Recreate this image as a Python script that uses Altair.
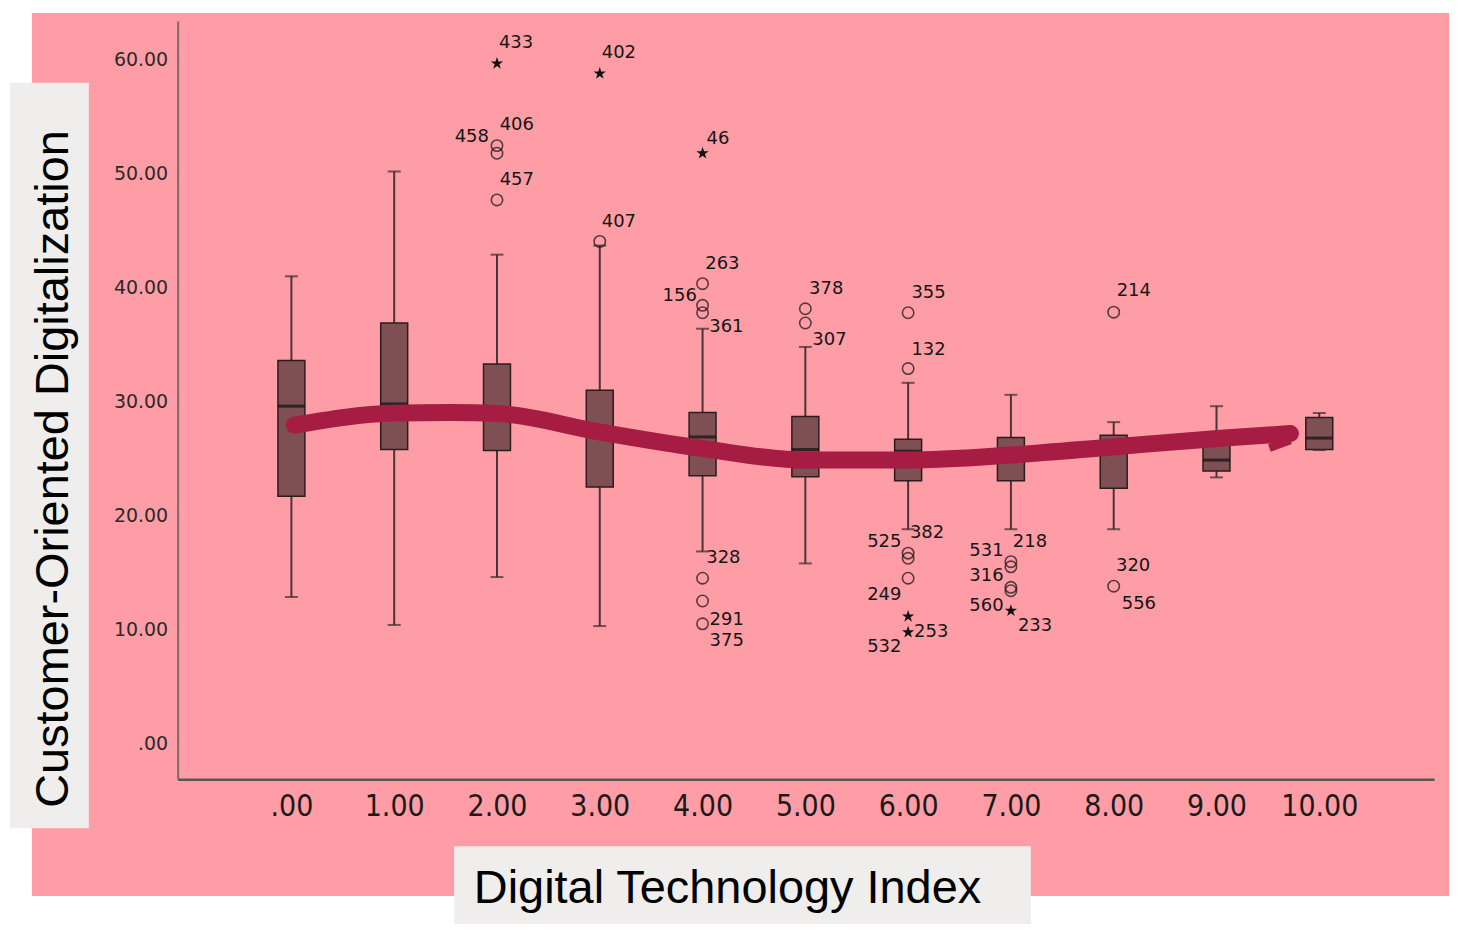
import altair as alt
import pandas as pd

# ---- data ----
categories = [0, 1, 2, 3, 4, 5, 6, 7, 8, 9, 10]
whisker_low = [12.85, 10.4, 14.6, 10.3, 16.85, 15.8, 18.8, 18.8, 18.8, 23.35, 25.75]
q1 = [21.7, 25.8, 25.7, 22.5, 23.5, 23.4, 23.05, 23.05, 22.4, 23.9, 25.8]
median = [29.6, 29.8, 28.8, 27.3, 26.9, 25.8, 25.65, 25.3, 26.2, 24.87, 26.8]
q3 = [33.6, 36.9, 33.3, 31.0, 29.05, 28.7, 26.7, 26.85, 27.05, 26.8, 28.6]
whisker_high = [41.0, 50.2, 42.9, 43.7, 36.4, 34.8, 31.65, 30.6, 28.2, 29.6, 29.0]

circle_x = [2, 2, 2, 3, 4, 4, 4, 4, 4, 4, 5, 5, 6, 6, 6, 6, 6, 7, 7, 7, 7, 8, 8]
circle_y = [52.47, 51.8, 47.7, 44.06, 40.35, 38.45, 37.8, 14.5, 12.5, 10.5, 38.15, 36.9,
            37.8, 32.9, 16.7, 16.25, 14.5, 15.95, 15.5, 13.7, 13.4, 37.85, 13.8]
star_x = [2, 3, 4, 6, 6, 7]
star_y = [59.67, 58.8, 51.8, 11.15, 9.75, 11.65]

# case labels: text, anchor x (category units), anchor y (value units), side
label_text = ["433", "402", "406", "458", "457", "407", "46", "263", "156", "361",
              "378", "307", "355", "132", "214", "328", "291", "375",
              "525", "382", "249", "253", "532", "531", "218", "316", "560", "233",
              "320", "556"]
label_x = [2.019, 3.019, 2.026, 1.922, 2.026, 3.019, 4.039, 4.026, 3.945, 4.065,
           5.036, 5.068, 6.032, 6.032, 8.029, 4.036, 4.068, 4.068,
           5.935, 6.017, 5.935, 6.058, 5.935, 6.929, 7.019, 6.929, 6.929, 7.068,
           8.022, 8.078]
label_y = [61.46, 60.64, 54.31, 53.19, 49.49, 45.75, 53.08, 42.04, 39.24, 36.55,
           39.85, 35.39, 39.53, 34.57, 39.70, 16.27, 10.86, 8.96,
           17.72, 18.51, 12.99, 9.78, 8.43, 16.90, 17.67, 14.71, 12.09, 10.27,
           15.53, 12.26]
label_side = ["left", "left", "left", "right", "left", "left", "left", "left", "right", "left",
              "left", "left", "left", "left", "left", "left", "left", "left",
              "right", "left", "right", "left", "right", "right", "left", "right", "right", "left",
              "left", "left"]

trend_x = [0.03, 1.0, 1.56, 2.0, 2.99, 3.99, 5.0, 6.0, 7.0, 8.01, 9.01, 9.72]
trend_y = [27.94, 28.99, 29.05, 28.97, 27.35, 25.9, 24.87, 24.87, 25.31, 26.04, 26.77, 27.2]
barb_x = [9.72, 9.515]
barb_y = [26.6, 25.93]

x_title = "Digital Technology Index"
y_title = "Customer-Oriented Digitalization"

# ---- styling ----
PINK = "#FE9DA6"
BOX = "#7E4F53"
CURVE = "#A61C42"
GRAYBOX = "#EFEEEC"

boxes = pd.DataFrame({"cat": categories, "lo": whisker_low, "q1": q1, "med": median,
                      "q3": q3, "hi": whisker_high})
circles = pd.DataFrame({"cat": circle_x, "v": circle_y})
stars = pd.DataFrame({"cat": star_x, "v": star_y})
labels = pd.DataFrame({"t": label_text, "cat": label_x, "v": label_y, "side": label_side})
trend = pd.DataFrame({"cat": trend_x, "v": trend_y, "o": list(range(len(trend_x)))})
barb = pd.DataFrame({"cat": barb_x, "v": barb_y, "o": [0, 1]})

xs = alt.Scale(domain=[-1.1068, 11.1165], nice=False, zero=False, padding=0)
ys = alt.Scale(domain=[-3.153, 63.414], nice=False, zero=False, padding=0)

fmt = "datum.value == 0 ? '.00' : format(datum.value, '.2f')"
xaxis = alt.Axis(values=categories, labelExpr=fmt, title=None, grid=False, ticks=False,
                 tickSize=0, labelPadding=12, labelFont="DejaVu Sans Condensed",
                 labelFontSize=30, labelColor="#1a1a1a", domainColor="#5f5254",
                 domainWidth=2.5, labelFlush=False, zindex=1)
yaxis = alt.Axis(values=[0, 10, 20, 30, 40, 50, 60], labelExpr=fmt, title=None, grid=False,
                 ticks=False, tickSize=0, labelPadding=10, labelFont="DejaVu Sans",
                 labelFontSize=19, labelColor="#2a2a2a", domainColor="#7a6a6c",
                 domainWidth=2, labelFlush=False, zindex=1)

one = alt.Data(values=[{"a": 1}])

# white page margins around the pink panel (pixel positions relative to the plot area)
wl = alt.Chart(one).mark_rect(color="#FFFFFF").encode(
    x=alt.value(-171), x2=alt.value(-146), y=alt.value(-13), y2=alt.value(905))
wt = alt.Chart(one).mark_rect(color="#FFFFFF").encode(
    x=alt.value(-171), x2=alt.value(1300), y=alt.value(-13), y2=alt.value(-8))
wr = alt.Chart(one).mark_rect(color="#FFFFFF").encode(
    x=alt.value(1274), x2=alt.value(1300), y=alt.value(-13), y2=alt.value(905))
wb = alt.Chart(one).mark_rect(color="#FFFFFF").encode(
    x=alt.value(-171), x2=alt.value(1300), y=alt.value(877), y2=alt.value(905))
ybox = alt.Chart(one).mark_rect(color=GRAYBOX).encode(
    x=alt.value(-168), x2=alt.value(-89), y=alt.value(62), y2=alt.value(809))
xbox = alt.Chart(one).mark_rect(color=GRAYBOX).encode(
    x=alt.value(277), x2=alt.value(855), y=alt.value(827), y2=alt.value(905))

X = alt.X("cat:Q", scale=xs, axis=xaxis)

whisk = alt.Chart(boxes).mark_rule(color="#4a3536", strokeWidth=2).encode(
    x=X, y=alt.Y("lo:Q", scale=ys, axis=yaxis), y2="hi:Q")
box = alt.Chart(boxes).mark_bar(size=27, color=BOX, stroke="#2b1d1e", strokeWidth=1.5).encode(
    x=X, y=alt.Y("q1:Q", scale=ys, axis=yaxis), y2="q3:Q")
med = alt.Chart(boxes).mark_tick(orient="horizontal", size=27, thickness=3, color="#111111").encode(
    x=X, y=alt.Y("med:Q", scale=ys, axis=yaxis))
caplo = alt.Chart(boxes).mark_tick(orient="horizontal", size=13, thickness=2, color="#3b2a2b").encode(
    x=X, y=alt.Y("lo:Q", scale=ys, axis=yaxis))
caphi = alt.Chart(boxes).mark_tick(orient="horizontal", size=13, thickness=2, color="#3b2a2b").encode(
    x=X, y=alt.Y("hi:Q", scale=ys, axis=yaxis))

circ = alt.Chart(circles).mark_point(shape="circle", filled=False, size=130, color="#111111",
                                     strokeWidth=1.6).encode(
    x=X, y=alt.Y("v:Q", scale=ys, axis=yaxis))
STAR = ("M0,-1L0.2245,-0.309L0.951,-0.309L0.363,0.118L0.588,0.809L0,0.382"
        "L-0.588,0.809L-0.363,0.118L-0.951,-0.309L-0.2245,-0.309Z")
star = alt.Chart(stars).mark_point(shape=STAR, filled=True, size=170, color="#111111",
                                   opacity=1).encode(
    x=X, y=alt.Y("v:Q", scale=ys, axis=yaxis))

lab_left = alt.Chart(labels).transform_filter("datum.side == 'left'").mark_text(
    align="left", baseline="middle", font="DejaVu Sans", fontSize=18, color="#151515").encode(
    x=X, y=alt.Y("v:Q", scale=ys, axis=yaxis), text="t:N")
lab_right = alt.Chart(labels).transform_filter("datum.side == 'right'").mark_text(
    align="right", baseline="middle", font="DejaVu Sans", fontSize=18, color="#151515").encode(
    x=X, y=alt.Y("v:Q", scale=ys, axis=yaxis), text="t:N")

curve = alt.Chart(trend).mark_line(interpolate="monotone", strokeWidth=17, strokeCap="round",
                                   color=CURVE).encode(
    x=X, y=alt.Y("v:Q", scale=ys, axis=yaxis), order="o:Q")
barbl = alt.Chart(barb).mark_line(strokeWidth=8, strokeCap="butt", color=CURVE).encode(
    x=X, y=alt.Y("v:Q", scale=ys, axis=yaxis), order="o:Q")

ytext = alt.Chart(one).mark_text(angle=270, align="center", baseline="alphabetic",
                                 font="Liberation Sans", fontSize=47, color="#000000").encode(
    x=alt.value(-110), y=alt.value(449), text=alt.value(y_title))
xtext = alt.Chart(one).mark_text(align="center", baseline="alphabetic",
                                 font="Liberation Sans", fontSize=47, color="#000000").encode(
    x=alt.value(551), y=alt.value(884), text=alt.value(x_title))

chart = alt.layer(
    whisk, box, med, caplo, caphi, circ, star, lab_left, lab_right,
    curve, barbl, wl, wt, wr, wb, ybox, xbox, ytext, xtext
).properties(
    width=1259, height=760,
    padding={"left": 170, "top": 12, "right": 16, "bottom": 144},
    autosize=alt.AutoSizeParams(type="none"),
    background=PINK,
).configure_view(stroke="transparent")

chart.save("out.html", embed_options={"renderer": "svg", "actions": False})
